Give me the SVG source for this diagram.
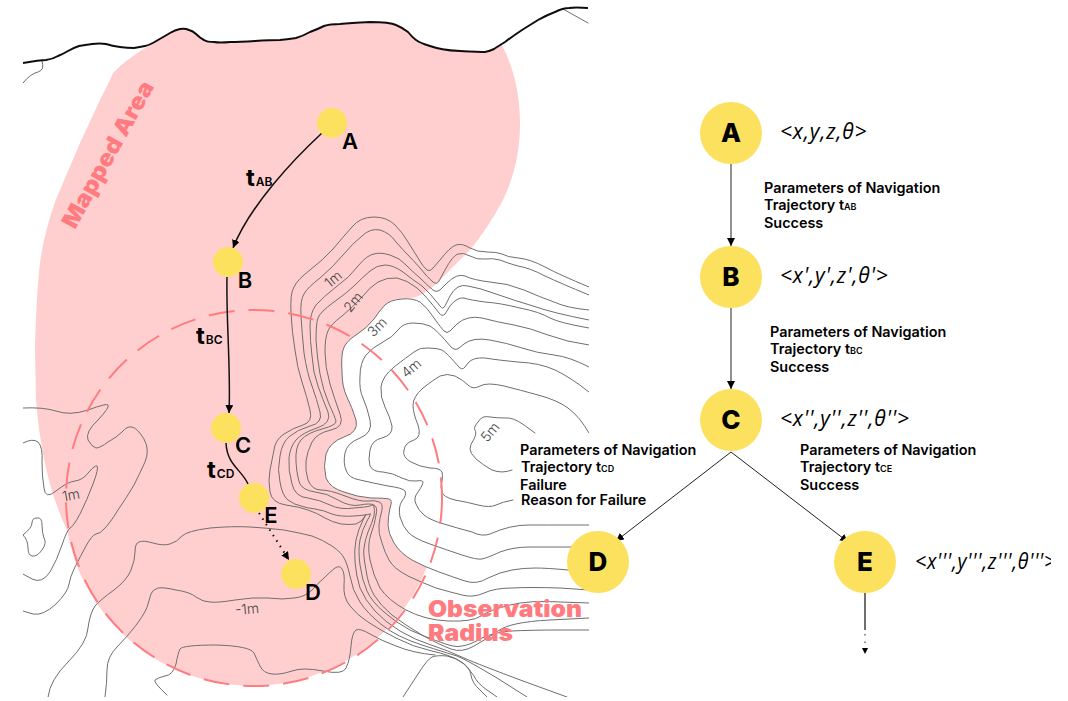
<svg xmlns="http://www.w3.org/2000/svg" width="1068" height="701" viewBox="0 0 1068 701">
<defs>
<clipPath id="mapclip"><rect x="23" y="0" width="566" height="697"/></clipPath>
<clipPath id="pageclip"><rect x="0" y="0" width="1051" height="701"/></clipPath>
<filter id="soft" x="-5%" y="-5%" width="110%" height="110%"><feGaussianBlur stdDeviation="0.3"/></filter>
<marker id="ah" markerWidth="10" markerHeight="10" refX="8" refY="4" orient="auto" markerUnits="userSpaceOnUse"><path d="M0,0 L8,4 L0,8 Z" fill="#000"/></marker>
<marker id="ahs" markerWidth="8" markerHeight="8" refX="6" refY="3" orient="auto" markerUnits="userSpaceOnUse"><path d="M0,0 L6,3 L0,6 Z" fill="#000"/></marker>
</defs>
<style>
text{font-family:"Inter","Liberation Sans",sans-serif;fill:#000}
.c{fill:none;stroke:#6e6e6e;stroke-width:1;stroke-linejoin:round;stroke-linecap:round}
.e{fill:none;stroke:#111;stroke-width:1.5}
.t{fill:none;stroke:#222;stroke-width:1}
.dot{fill:#fce15f}
.nl{font-size:22px;font-weight:600;text-anchor:middle}
.bl{font-size:26px;font-weight:800;text-anchor:middle}
.tr{font-size:24px;font-weight:700}
.sub{font-size:12px;font-weight:600}
.p{font-size:14.4px;font-weight:600}
.ps{font-size:9px;font-weight:600}
.st{font-family:"Open Sans","DejaVu Sans",sans-serif;font-size:21px;font-style:italic;letter-spacing:.8px}
.m{font-size:14px;font-weight:300;fill:#444;text-anchor:middle}
.r{font-weight:900;fill:#ff7b80;font-size:23px}
</style>
<g id="map" clip-path="url(#mapclip)">
<path id="mapped-area" fill="#ffcfcf" d="M150,45 Q158,40 158,40 Q165,36 170,33 Q175,30 180,29 Q185,28 189,30 Q193,31 196,34 Q200,38 204,40 Q207,42 214,42 Q220,43 230,42 Q240,42 255,41 Q270,40 280,40 Q290,39 296,38 Q303,36 310,32 Q318,29 324,26 Q330,24 340,24 Q350,23 370,22 Q390,22 396,25 Q403,28 408,32 Q412,37 416,40 Q420,43 430,46 Q440,50 460,51 Q480,52 485,52 Q490,51 494,49 Q497,47 502,45 C512,65 520,90 520,123 C520,150 515,175 503,200 Q488,228 470,250 L435,285 Q424,295 413,298 Q390,298 385,305 Q380,310 374,319 Q367,328 356,335 Q345,342 343,350 Q341,357 342,372 Q342,387 347,397 Q352,407 356,420 Q359,432 344,437 Q330,442 326,454 Q323,467 326,478 Q330,488 344,492 Q357,497 371,498 Q385,498 389,499 Q393,500 390,508 Q388,517 388,525 Q388,533 394,543 Q400,553 412,560 L427,567 A188,188 0 0 1 67,530 C50,495 40,450 36,400 L35,350 C36,310 38,280 40,263 C43,240 50,215 57,197 L80,143 L100,100 C106,88 110,80 113,73 Q125,60 150,45 Z"/>
<g id="contours" filter="url(#soft)">
<path class="c" d="M589,287 Q560,275 545,267 Q530,259 518,258 Q507,257 502,254 Q497,252 487,252 Q477,252 470,248 Q462,243 456,245 Q450,247 440,260 L433,268 Q430,272 427,270 Q423,267 418,258 Q413,250 408,242 Q403,233 395,225 Q387,217 374,217 Q360,217 352,227 Q343,237 333,249 Q323,260 310,270 Q297,280 294,287 Q290,293 291,313 Q292,333 295,350 Q297,367 302,382 Q307,397 310,410 Q313,422 303,425 Q293,428 284,434 Q275,440 274,450 Q272,460 270,470 Q268,480 270,492 Q272,503 286,505 Q300,507 308,510 Q317,513 325,518 Q332,522 341,524 Q350,525 356,524 Q362,522 365,516 Q368,510 363,520 Q358,530 356,540 Q354,550 355,562 Q356,575 360,588 Q365,600 375,611 Q385,622 400,631 Q415,640 431,645 Q447,650 464,658 Q480,665 523,681 L567,697"/>
<path class="c" d="M589,295 Q560,283 545,276 Q530,268 518,266 Q507,263 500,260 Q493,258 485,259 Q477,260 470,256 Q463,252 458,254 Q453,255 445,270 L439,281 Q437,285 433,282 Q427,277 420,268 Q413,260 408,255 Q403,250 396,242 Q390,233 380,230 Q370,228 362,236 Q353,243 343,255 Q333,267 320,278 Q307,288 304,294 Q300,300 301,316 Q302,333 304,353 Q307,373 312,386 Q317,400 320,412 Q323,423 310,426 Q297,430 290,436 Q282,442 280,456 Q277,470 280,482 Q282,495 288,500 Q295,505 301,506 Q307,508 315,509 Q323,510 332,514 Q340,517 354,516 Q367,515 370,514 Q372,512 367,521 Q362,530 360,540 Q358,550 360,565 Q362,580 367,591 Q372,602 384,612 Q395,622 410,630 Q425,637 440,642 Q455,648 462,646 Q470,645 482,638 Q495,632 512,631 Q530,630 560,630 L589,630"/>
<path class="c" d="M589,310 Q567,308 554,302 Q540,297 524,290 Q507,283 490,282 Q473,280 465,276 Q457,273 447,283 L441,289 Q437,293 433,290 Q427,285 420,278 Q413,272 406,265 Q400,258 390,255 Q380,252 374,254 Q367,255 358,266 Q350,277 336,287 Q323,297 316,305 Q310,313 310,326 Q310,340 312,356 Q313,373 318,386 Q323,400 328,412 Q332,423 317,428 Q302,433 296,440 Q290,447 289,458 Q288,470 292,484 Q295,497 308,498 Q320,500 330,505 Q340,510 354,508 Q367,507 370,506 Q374,504 374,507 Q375,510 374,516 Q372,523 368,532 Q365,540 364,548 Q363,555 366,570 Q368,585 374,595 Q380,605 392,615 Q405,625 422,635 Q440,645 451,649 Q462,653 474,646 Q485,640 498,631 Q510,622 550,620 L589,618"/>
<path class="c" d="M589,320 Q553,313 533,306 Q513,300 496,294 Q480,288 468,286 Q457,283 450,296 L445,306 Q443,310 440,306 Q430,293 422,286 Q413,280 403,272 Q393,265 385,265 Q377,265 370,271 Q363,277 355,285 Q347,293 334,302 Q320,312 318,318 Q316,323 316,340 Q317,357 320,374 Q323,390 329,404 Q335,417 336,421 Q337,425 322,429 Q307,433 301,440 Q295,447 296,462 Q297,477 300,484 Q303,490 315,492 Q327,493 338,500 Q350,507 360,505 Q370,503 374,505 Q378,507 376,515 Q375,523 371,534 Q367,545 370,560 Q373,575 380,588 Q388,600 406,610 Q425,620 448,621 Q472,622 481,616 Q490,610 510,605 Q530,600 560,602 L589,603"/>
<path class="c" d="M589,328 Q560,323 550,318 Q540,312 520,308 Q500,303 485,302 Q470,300 464,298 Q457,297 450,306 L445,314 Q442,317 439,313 Q427,297 417,288 Q407,280 397,278 Q387,277 378,282 Q370,287 362,297 Q353,307 342,316 Q330,325 328,331 Q325,337 325,352 Q325,367 330,384 Q335,400 340,414 Q345,427 331,430 Q317,433 312,442 Q307,452 306,461 Q305,470 308,480 Q312,490 321,490 Q330,490 345,496 Q360,502 368,501 Q375,500 379,502 Q383,503 382,510 Q380,517 379,525 Q378,533 382,543 Q385,553 389,560 Q393,568 408,576 Q423,583 436,588 Q450,592 462,595 Q473,598 484,593 Q495,588 512,588 Q530,587 560,588 L589,590"/>
<path class="c" d="M589,345 Q567,342 548,335 Q530,328 514,325 Q497,322 482,318 Q467,315 457,324 L450,331 Q447,334 444,331 Q442,329 434,318 Q427,307 420,302 Q413,298 402,299 Q390,300 385,305 Q380,310 374,319 Q367,328 356,335 Q345,342 343,350 Q341,357 342,372 Q342,387 347,397 Q352,407 356,420 Q359,432 344,437 Q330,442 326,454 Q323,467 326,478 Q330,488 344,492 Q357,497 371,498 Q385,498 389,499 Q393,500 390,508 Q388,517 388,525 Q388,533 394,543 Q400,553 412,560 Q425,567 439,572 Q453,577 465,581 Q477,585 488,578 Q500,572 512,570 Q523,568 535,568 Q547,568 568,570 L589,572"/>
<path class="c" d="M589,367 Q570,357 554,355 Q537,353 522,348 Q507,343 490,340 Q473,337 464,344 L459,348 Q455,351 451,347 Q437,330 430,326 Q423,323 413,323 Q403,323 398,330 Q393,337 383,342 Q373,347 366,355 Q360,363 360,376 Q359,390 363,398 Q367,407 370,420 Q373,433 360,438 Q347,443 345,453 Q343,463 346,470 Q348,478 360,480 Q373,483 388,486 Q403,488 405,491 Q407,495 402,501 Q398,507 400,517 Q403,527 408,532 Q413,538 430,544 Q447,550 462,555 Q477,560 482,559 Q487,558 500,552 Q513,547 530,547 Q547,547 568,547 L589,547"/>
<path class="c" d="M589,392 Q570,377 555,370 Q540,363 518,362 Q497,360 485,358 Q473,357 468,363 L465,367 Q462,371 458,366 Q447,353 442,350 Q437,348 428,348 Q420,347 414,352 Q407,357 394,367 Q382,377 381,387 Q380,397 385,407 Q390,417 392,426 Q393,435 382,438 Q372,440 370,450 Q368,460 370,466 Q373,472 383,472 Q393,473 402,478 Q410,482 416,481 Q423,480 423,482 Q423,485 418,492 Q413,498 416,504 Q418,510 424,515 Q430,520 444,524 Q457,528 472,532 Q482,537 490,534 Q510,525 528,525 Q547,525 568,525 L589,525"/>
<path class="c" d="M589,433 Q580,417 568,408 Q557,400 538,395 Q520,390 504,386 Q487,382 480,386 Q473,390 468,385 Q463,380 455,376 Q447,373 440,376 Q433,380 423,388 Q413,397 413,405 Q413,413 418,425 Q422,437 414,440 Q405,443 404,450 Q402,457 411,462 Q420,467 430,468 Q440,468 442,472 Q443,475 442,481 Q440,487 442,492 Q443,497 455,500 Q467,502 478,505 Q490,508 496,505 Q502,502 513,500"/>
<path class="c" d="M512,470 Q502,474 492,470 Q483,465 476,459 Q470,453 470,449 Q470,445 474,439 Q477,433 475,430 Q473,428 478,422 Q482,415 490,417 Q497,418 505,418 Q513,417 524,425 L535,433"/>
<path class="c" d="M48,697 Q50,680 68,662 Q87,643 88,628 Q90,613 95,606 Q100,600 114,590 Q127,580 131,570 Q135,560 135,552 Q135,543 139,542 Q143,540 153,543 Q163,546 170,544 Q177,542 182,536 Q187,531 210,528 Q233,526 250,527 Q267,528 284,530 Q300,533 312,536 Q323,540 332,546 Q342,553 344,558 Q347,563 350,576 Q352,590 360,602 Q367,613 382,625 Q397,637 422,645 Q447,653 457,656 Q467,660 497,678 L527,697"/>
<path class="c" d="M105,697 Q107,683 107,670 Q107,657 117,647 Q127,637 137,624 Q147,610 148,604 Q150,597 151,594 Q152,590 158,588 Q163,587 176,590 Q190,592 196,597 Q203,602 210,602 Q217,603 235,600 Q253,597 268,598 Q283,600 294,598 Q305,597 312,590 Q318,583 324,578 Q330,572 335,568 Q340,565 342,569 Q345,573 344,585 Q343,597 350,606 Q357,615 368,622 Q380,630 396,638 Q413,647 432,651 Q450,655 460,661 Q470,667 471,675 Q472,683 480,690 L487,697"/>
<path class="c" d="M167,695 Q153,682 155,680 Q157,678 165,676 Q173,675 176,664 Q178,653 180,649 Q183,645 216,645 Q250,646 254,653 Q257,660 260,666 Q263,673 272,674 Q280,675 292,671 Q303,667 323,671 Q343,675 346,668 Q350,660 351,646 Q352,633 356,630 Q360,628 370,634 Q380,640 396,646 Q413,653 435,655"/>
<path class="c" d="M403,697 L420,671 Q427,660 432,657 Q437,655 447,656 Q457,658 464,664 Q470,670 474,676 Q477,683 487,690 L497,697"/>
<path class="c" d="M23,408 Q43,407 56,411 Q70,416 88,410 Q107,403 108,405 Q110,407 98,420 Q85,432 88,440 Q92,447 96,448 Q100,448 108,442 Q117,437 122,432 Q127,426 132,427 Q137,428 144,439 Q150,450 145,462 Q140,473 134,485 Q127,497 118,510 Q110,523 105,528 Q100,534 96,534 Q92,535 86,546 Q80,557 75,567 Q70,577 69,584 Q68,592 56,604 Q43,616 33,614 L23,611"/>
<path class="c" d="M23,443 Q33,438 38,442 Q43,447 42,462 Q42,477 44,488 Q45,500 56,491 Q67,482 75,481 Q83,480 89,472 Q95,465 97,466 Q99,468 93,484 Q87,500 80,514 Q73,527 70,528 Q67,530 62,545 Q57,560 50,572 Q42,584 32,579 L23,574"/>
<path class="c" d="M23,535 Q32,528 32,523 Q32,518 37,518 Q42,517 42,525 Q42,533 44,538 Q47,543 42,550 Q37,557 32,556 Q28,555 28,548 Q28,540 23,535"/>
<path class="c" d="M42,61 Q45,70 38,72 Q30,74 23,83"/>
<path class="c" d="M563,9 L588,23"/>
</g>
<path id="coast" filter="url(#soft)" fill="none" stroke="#111" stroke-width="2" stroke-linejoin="round" d="M23,63 Q40,60 46,60 Q53,59 58,56 Q63,54 68,51 Q73,48 79,46 Q85,45 92,44 Q100,43 106,44 Q112,46 120,47 Q127,48 134,48 Q140,47 145,46 Q150,45 158,40 Q165,36 170,33 Q175,30 180,29 Q185,28 189,30 Q193,31 196,34 Q200,38 204,40 Q207,42 214,42 Q220,43 230,42 Q240,42 255,41 Q270,40 280,40 Q290,39 296,38 Q303,36 310,32 Q318,29 324,26 Q330,24 340,24 Q350,23 370,22 Q390,22 396,25 Q403,28 408,32 Q412,37 416,40 Q420,43 430,46 Q440,50 460,51 Q480,52 485,52 Q490,51 494,49 Q497,47 505,42 Q513,36 522,30 Q530,25 538,20 Q547,15 555,12 Q563,8 569,8 Q575,7 588,8"/>
</g>
<circle id="observation-radius" cx="254" cy="498" r="188" fill="none" stroke="#ff7b80" stroke-width="2" stroke-dasharray="26 14"/>
<g id="map-labels">
<text class="m" transform="translate(333,279) rotate(-40)" y="5">1m</text>
<text class="m" transform="translate(353,302) rotate(-50)" y="5">2m</text>
<text class="m" transform="translate(377,327) rotate(-45)" y="5">3m</text>
<text class="m" transform="translate(411,368) rotate(-40)" y="5">4m</text>
<text class="m" transform="translate(490,432) rotate(-50)" y="5">5m</text>
<text class="m" transform="translate(71,495) rotate(-10)" y="5">1m</text>
<text class="m" transform="translate(247,609) rotate(-5)" y="5">-1m</text>
<text class="r" transform="translate(75,230) rotate(-61)" textLength="164" lengthAdjust="spacingAndGlyphs">Mapped Area</text>
<text class="r" x="428" y="617" textLength="154" lengthAdjust="spacingAndGlyphs">Observation</text>
<text class="r" x="428" y="641" textLength="85" lengthAdjust="spacingAndGlyphs">Radius</text>
</g>
<g id="connectors">
<path class="e" marker-end="url(#ah)" d="M322,133 C295,158 250,205 233,248"/>
<path class="e" marker-end="url(#ah)" d="M227,277 C226,320 231,370 229,413"/>
<path class="e" d="M226,443 C227,465 242,470 248,484"/>
<path class="e" style="stroke-width:2" stroke-dasharray="1.5 5" marker-end="url(#ah)" d="M259,513 L289,560"/>
<path class="t" marker-end="url(#ah)" d="M731,164 L731,246"/>
<path class="t" marker-end="url(#ah)" d="M731,308 L731,389"/>
<path class="t" marker-end="url(#ah)" d="M731,452 L616,541"/>
<path class="t" marker-end="url(#ah)" d="M731,452 L848,542"/>
<path class="t" style="stroke-width:1.3" d="M865,593 L865,630"/>
<path class="t" stroke-dasharray="1.5 6" marker-end="url(#ahs)" d="M865,634 L865,654"/>
</g>
<g id="traj-labels">
<text class="tr" x="246" y="186">t<tspan class="sub" dx="1">AB</tspan></text>
<text class="tr" x="196" y="344">t<tspan class="sub" dx="1">BC</tspan></text>
<text class="tr" x="207" y="478">t<tspan class="sub" dx="1">CD</tspan></text>
</g>
<g id="map-A"><circle class="dot" cx="332" cy="123" r="15"/><text class="nl" x="350" y="149">A</text></g>
<g id="map-B"><circle class="dot" cx="228" cy="262" r="15"/><text class="nl" x="245" y="288">B</text></g>
<g id="map-C"><circle class="dot" cx="226" cy="428" r="15"/><text class="nl" x="243" y="453">C</text></g>
<g id="map-E"><circle class="dot" cx="254" cy="498" r="15"/><text class="nl" x="271" y="523">E</text></g>
<g id="map-D"><circle class="dot" cx="296" cy="574" r="15"/><text class="nl" x="313" y="600">D</text></g>
<g id="node-A"><circle class="dot" cx="731" cy="133" r="31"/><text class="bl" x="731" y="142">A</text><text class="st" x="780" y="139">&lt;x,y,z,θ&gt;</text></g>
<g id="node-B"><circle class="dot" cx="731" cy="277" r="31"/><text class="bl" x="731" y="286">B</text><text class="st" x="780" y="283">&lt;x',y',z',θ'&gt;</text></g>
<g id="node-C"><circle class="dot" cx="731" cy="420" r="31"/><text class="bl" x="731" y="429">C</text><text class="st" x="780" y="426">&lt;x'',y'',z'',θ''&gt;</text></g>
<g id="node-D"><circle class="dot" cx="598" cy="562" r="31"/><text class="bl" x="598" y="571">D</text></g>
<g id="node-E" clip-path="url(#pageclip)"><circle class="dot" cx="865" cy="562" r="31"/><text class="bl" x="865" y="571">E</text><text class="st" x="915" y="569" textLength="141" lengthAdjust="spacingAndGlyphs">&lt;x''',y''',z''',θ'''&gt;</text></g>
<g id="edge-labels">
<g id="label-ab"><text class="p" x="764" y="193">Parameters of Navigation</text><text class="p" x="764" y="210">Trajectory t<tspan class="ps">AB</tspan></text><text class="p" x="764" y="228">Success</text></g>
<g id="label-bc"><text class="p" x="770" y="337">Parameters of Navigation</text><text class="p" x="770" y="354">Trajectory t<tspan class="ps">BC</tspan></text><text class="p" x="770" y="372">Success</text></g>
<g id="label-cd"><text class="p" x="520" y="455">Parameters of Navigation</text><text class="p" x="521" y="472">Trajectory t<tspan class="ps">CD</tspan></text><text class="p" x="520" y="490">Failure</text><text class="p" x="521" y="505">Reason for Failure</text></g>
<g id="label-ce"><text class="p" x="800" y="455">Parameters of Navigation</text><text class="p" x="800" y="472">Trajectory t<tspan class="ps">CE</tspan></text><text class="p" x="800" y="490">Success</text></g>
</g>
</svg>
